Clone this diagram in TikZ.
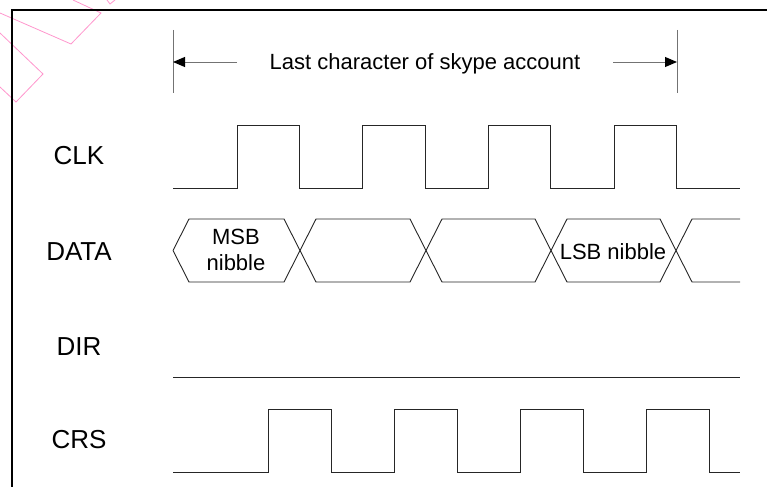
\documentclass[tikz,border=0pt]{standalone}
\usepackage{fontspec}
\setmainfont{Liberation Sans}
\usetikzlibrary{arrows.meta}

\begin{document}
\begin{tikzpicture}[x=1pt,y=-1pt,
        signal/.style={draw=black!85,line width=0.9pt},
        sig label/.style={font=\fontsize{26}{30}\selectfont,inner sep=0pt},
        note/.style={font=\fontsize{22}{26}\selectfont,inner sep=0pt,align=center},
        span bar/.style={draw=black!55,line width=1pt},
        span arrow/.style={draw=black!55,line width=1pt,-{Triangle[length=12pt,width=10pt,color=black]}},
        stamp/.style={draw={rgb,255:red,255;green,150;blue,205},line width=0.8pt}]
    \useasboundingbox (0,0) rectangle (767,487);

    % stamp in the corner
    \draw[stamp] (73,0) -- (101,13) -- (71,44) -- (0,13);
    \draw[stamp] (107,0) -- (110,4) -- (115,0);
    \draw[stamp] (0,33) -- (43,74) -- (16,102) -- (0,87);

    % frame
    \draw[line width=2pt] (767,10) -- (12,10) -- (12,487);

    % signal names
    \node[sig label] (clk)  at (79,156) {CLK};
    \node[sig label] (data) at (79,252) {DATA};
    \node[sig label] (dir)  at (79,347) {DIR};
    \node[sig label] (crs)  at (79,440) {CRS};

    % span of one character
    \node[note,anchor=base] (span) at (425,70) {Last character of skype account};
    \coordinate (left end)    at (173,62);
    \coordinate (left start)  at (237,62);
    \coordinate (right start) at (613,62);
    \coordinate (right end)   at (677,62);
    \draw[span bar] (173,30) -- (173,93);
    \draw[span bar] (677,30) -- (677,93);
    \draw[span arrow] (left start) -- (left end);
    \draw[span arrow] (right start) -- (right end);

    % CLK
    \draw[signal] (173,188)
        \foreach \i in {0,...,3} {-- (237+125.7*\i,188) -- ++(0,-63) -- ++(62.5,0) -- ++(0,63)}
        -- (740,188);

    % DATA
    \draw[signal] (173,250.5) -- (189,219)
        \foreach \c/\a/\b in {300/219/282,426/282/219,551/219/282,676/282/219} {-- (\c-16,\a) -- (\c+16,\b)}
        -- (740,219);
    \draw[signal] (173,250.5) -- (189,282)
        \foreach \c/\a/\b in {300/282/219,426/219/282,551/282/219,676/219/282} {-- (\c-16,\a) -- (\c+16,\b)}
        -- (740,282);
    \node[note] (msb) at (236,250) {MSB\\nibble};
    \node[note] (lsb) at (613,252) {LSB nibble};

    % DIR
    \draw[signal] (173,377) -- (740,377);

    % CRS
    \draw[signal] (173,472)
        \foreach \i in {0,...,3} {-- (268+126*\i,472) -- ++(0,-63) -- ++(63,0) -- ++(0,63)}
        -- (740,472);
\end{tikzpicture}
\end{document}
